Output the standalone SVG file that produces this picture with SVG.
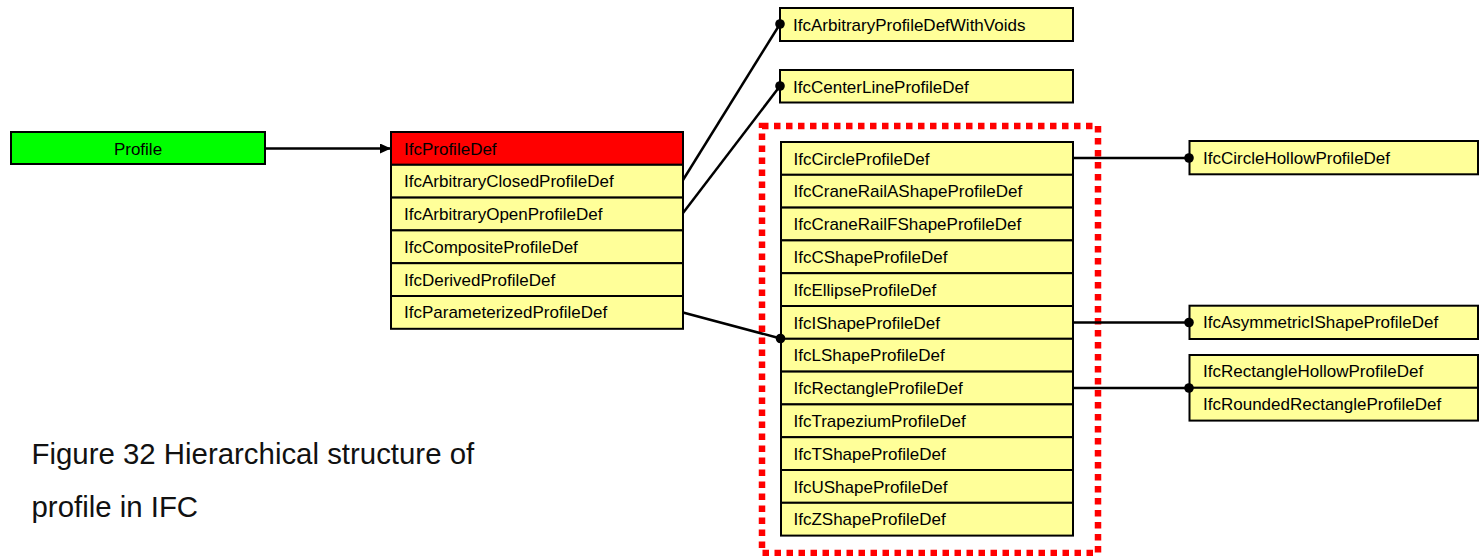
<svg xmlns="http://www.w3.org/2000/svg" width="1479" height="556" viewBox="0 0 1479 556">
<defs>
<style>
.box{fill:#FFFF99;stroke:#000;stroke-width:2}
.t{font-family:"Liberation Sans",Arial,sans-serif;font-size:17px;fill:#000}
.c{fill:none;stroke:#000;stroke-width:2.5}
.dot{fill:#000}
</style>
<marker id="arr" markerWidth="12" markerHeight="10" refX="11" refY="5" orient="auto" markerUnits="userSpaceOnUse">
<path d="M0,0 L11,5 L0,10 Z" fill="#000"/>
</marker>
</defs>
<rect width="1479" height="556" fill="#fff"/>

<g id="profile">
<rect x="11" y="132" width="254" height="32" fill="#00FF00" stroke="#000" stroke-width="2"/>
<text class="t" x="138" y="154.5" text-anchor="middle">Profile</text>
</g>

<g id="ifcprofiledef">
<rect x="391" y="132" width="292" height="32.8" fill="#FF0000" stroke="#000" stroke-width="2"/>
<text class="t" x="404" y="154.5">IfcProfileDef</text>
<rect class="box" x="391" y="164.8" width="292" height="32.8"/>
<text class="t" x="404" y="187.2">IfcArbitraryClosedProfileDef</text>
<rect class="box" x="391" y="197.6" width="292" height="32.8"/>
<text class="t" x="404" y="220">IfcArbitraryOpenProfileDef</text>
<rect class="box" x="391" y="230.4" width="292" height="32.8"/>
<text class="t" x="404" y="252.8">IfcCompositeProfileDef</text>
<rect class="box" x="391" y="263.2" width="292" height="32.8"/>
<text class="t" x="404" y="285.6">IfcDerivedProfileDef</text>
<rect class="box" x="391" y="296" width="292" height="32.8"/>
<text class="t" x="404" y="318.4">IfcParameterizedProfileDef</text>
</g>

<g id="withvoids">
<rect class="box" x="780" y="8" width="293" height="33"/>
<text class="t" x="793" y="30.5">IfcArbitraryProfileDefWithVoids</text>
</g>
<g id="centerline">
<rect class="box" x="780" y="70" width="293" height="32.5"/>
<text class="t" x="793" y="92.5">IfcCenterLineProfileDef</text>
</g>

<g id="highlight">
<rect x="762" y="126" width="336" height="427" fill="none" stroke="#FF0000" stroke-width="6.5" stroke-dasharray="6.5 5.5"/>
</g>

<g id="parameterized">
<rect class="box" x="781" y="142" width="292" height="32.8"/>
<text class="t" x="793.5" y="164.5">IfcCircleProfileDef</text>
<rect class="box" x="781" y="174.8" width="292" height="32.8"/>
<text class="t" x="793.5" y="197.3">IfcCraneRailAShapeProfileDef</text>
<rect class="box" x="781" y="207.6" width="292" height="32.8"/>
<text class="t" x="793.5" y="230.1">IfcCraneRailFShapeProfileDef</text>
<rect class="box" x="781" y="240.4" width="292" height="32.8"/>
<text class="t" x="793.5" y="262.9">IfcCShapeProfileDef</text>
<rect class="box" x="781" y="273.2" width="292" height="32.8"/>
<text class="t" x="793.5" y="295.7">IfcEllipseProfileDef</text>
<rect class="box" x="781" y="306" width="292" height="32.8"/>
<text class="t" x="793.5" y="328.5">IfcIShapeProfileDef</text>
<rect class="box" x="781" y="338.8" width="292" height="32.8"/>
<text class="t" x="793.5" y="361.3">IfcLShapeProfileDef</text>
<rect class="box" x="781" y="371.6" width="292" height="32.8"/>
<text class="t" x="793.5" y="394.1">IfcRectangleProfileDef</text>
<rect class="box" x="781" y="404.4" width="292" height="32.8"/>
<text class="t" x="793.5" y="426.9">IfcTrapeziumProfileDef</text>
<rect class="box" x="781" y="437.2" width="292" height="32.8"/>
<text class="t" x="793.5" y="459.7">IfcTShapeProfileDef</text>
<rect class="box" x="781" y="470" width="292" height="32.8"/>
<text class="t" x="793.5" y="492.5">IfcUShapeProfileDef</text>
<rect class="box" x="781" y="502.8" width="292" height="32.8"/>
<text class="t" x="793.5" y="525.3">IfcZShapeProfileDef</text>
</g>

<g id="circlehollow">
<rect class="box" x="1189.5" y="141" width="288.5" height="33.3"/>
<text class="t" x="1203" y="163.7">IfcCircleHollowProfileDef</text>
</g>
<g id="asymmetric">
<rect class="box" x="1189.5" y="305.7" width="288.5" height="33.3"/>
<text class="t" x="1203" y="328.3">IfcAsymmetricIShapeProfileDef</text>
</g>
<g id="recthollow">
<rect class="box" x="1189.5" y="355" width="288.5" height="32.8"/>
<text class="t" x="1203" y="377.4">IfcRectangleHollowProfileDef</text>
<rect class="box" x="1189.5" y="387.8" width="288.5" height="32.8"/>
<text class="t" x="1203" y="410.2">IfcRoundedRectangleProfileDef</text>
</g>

<g id="connectors">
<line class="c" x1="265" y1="148.5" x2="391" y2="148.5" marker-end="url(#arr)"/>
<line class="c" x1="683" y1="180" x2="780" y2="24"/>
<circle class="dot" cx="780" cy="24" r="4.8"/>
<line class="c" x1="683" y1="213" x2="780" y2="86"/>
<circle class="dot" cx="780" cy="86" r="4.8"/>
<line class="c" x1="683" y1="312.5" x2="780.5" y2="338.5"/>
<circle class="dot" cx="780.5" cy="338.5" r="4.8"/>
<line class="c" x1="1073" y1="158" x2="1189" y2="158"/>
<circle class="dot" cx="1189" cy="158" r="4.8"/>
<line class="c" x1="1073" y1="322.5" x2="1189" y2="322.5"/>
<circle class="dot" cx="1189" cy="322.5" r="4.8"/>
<line class="c" x1="1073" y1="388" x2="1189" y2="388"/>
<circle class="dot" cx="1189" cy="388" r="4.8"/>
</g>

<g id="caption" font-family="'Liberation Sans',Arial,sans-serif" font-size="29.4" fill="#111">
<text x="31.5" y="463.5">Figure 32 Hierarchical structure of</text>
<text x="31.5" y="517">profile in IFC</text>
</g>
</svg>
